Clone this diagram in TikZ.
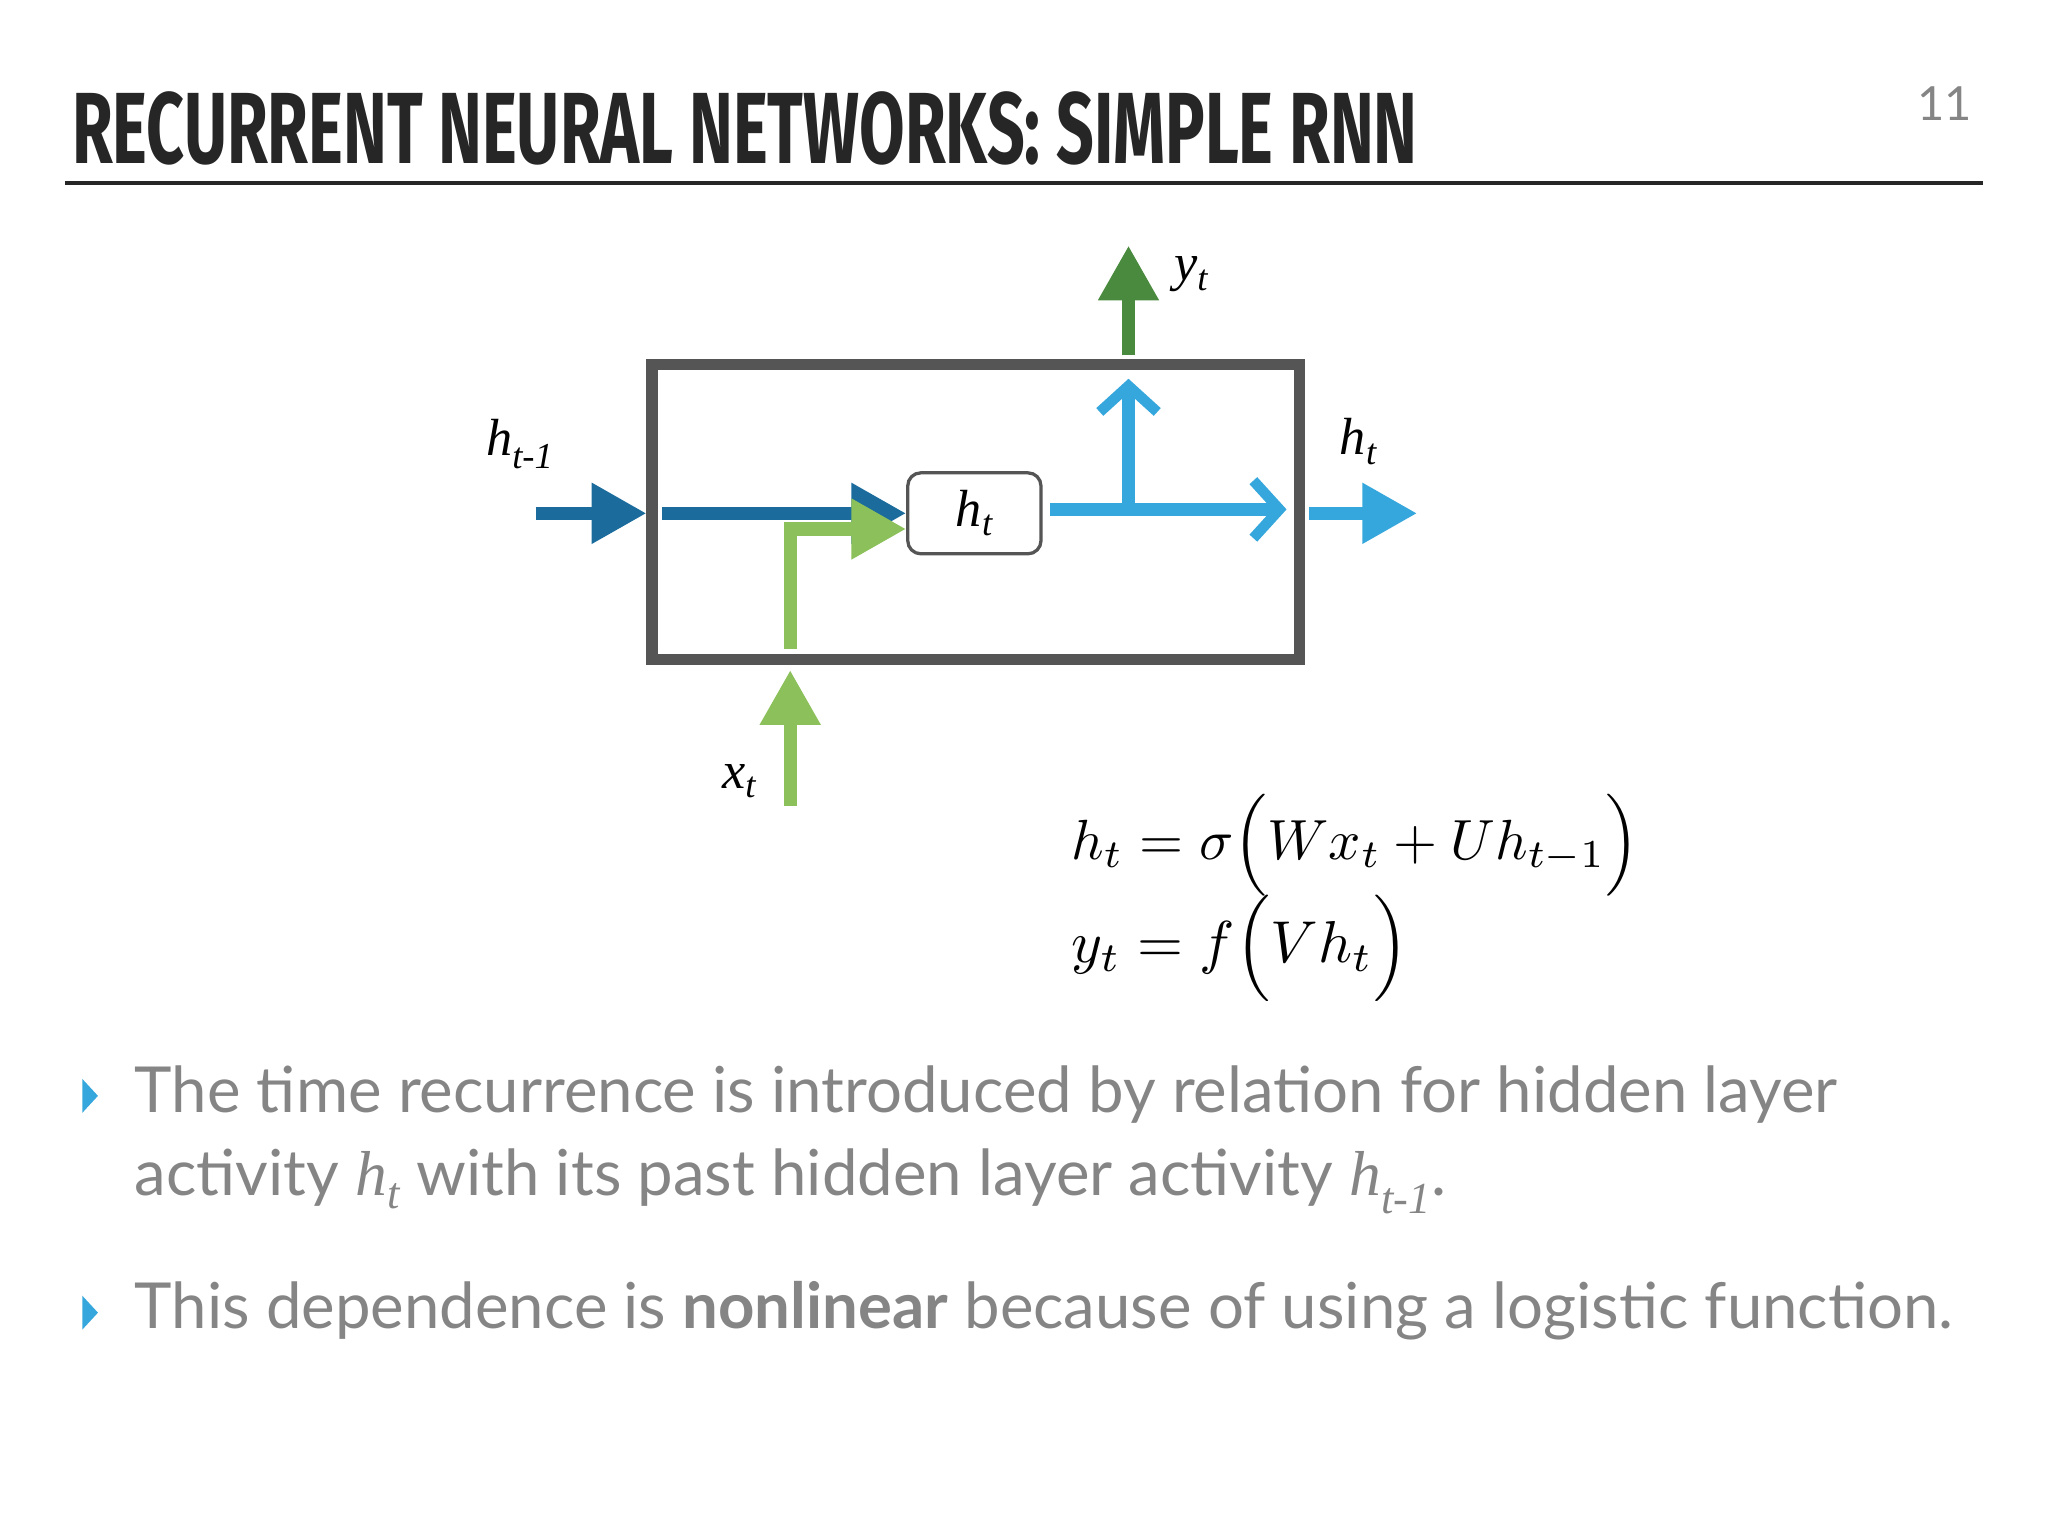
\documentclass[tikz,border=0pt]{standalone}
\usepackage{fontspec}
\setmainfont{Lato}
\newfontfamily\serifit{Liberation Serif}
\newfontfamily\titlefont{Fira Sans}
\usetikzlibrary{arrows.meta}
\definecolor{dblue}{HTML}{1B6B9C}
\definecolor{lblue}{HTML}{35A7DC}
\definecolor{lgreen}{HTML}{8CC05A}
\definecolor{dgreen}{HTML}{4A8A3E}
\definecolor{boxgray}{HTML}{555555}
\definecolor{txtgray}{HTML}{858585}
\begin{document}
\begin{tikzpicture}[x=1pt,y=-1pt,
  fat/.style={line width=10pt},
  fhead/.style={-{Triangle[length=42pt,width=44pt]}},
  ohead/.style={-{Straight Barb[length=20pt,width=44pt,line width=8pt]}},
  lab/.style={font=\fontsize{40}{40}\selectfont\serifit\itshape, inner sep=0pt},
  bul/.style={font=\fontsize{48.6}{64}\selectfont, text=txtgray, anchor=base west, inner sep=0pt}]
\useasboundingbox (0,0) rectangle (1568,1176);
\node[anchor=base west,inner sep=0pt,text=black!85] (title) at (55,125) {\resizebox{1030pt}{55pt}{\titlefont\bfseries RECURRENT NEURAL NETWORKS: SIMPLE RNN}};
\node[anchor=base east,inner sep=0pt,text=txtgray,font=\fontsize{36}{36}\selectfont] (pg) at (1510,92) {11};
\draw[line width=3pt,black!85] (50,140) coordinate (r1) -- (1518,140) coordinate (r2);
\node[draw=boxgray,line width=9pt,minimum width=496pt,minimum height=226pt,inner sep=0pt] (box) at (747,392) {};
\node[draw=boxgray,line width=2.5pt,rounded corners=10pt,minimum width=102pt,minimum height=62pt,inner sep=0pt,lab] (h) at (746,393) {h\textsubscript{t}};
% h_{t-1} input
\coordinate (a0) at (410,393); \coordinate (a1) at (495,393);
\draw[fat,dblue,fhead] (a0) -- (a1);
\coordinate (b0) at (507,393);
\draw[fat,dblue,fhead] (b0) -- (h.west);
% x_t input
\coordinate (g0) at (605,497); \coordinate (g1) at (605,405);
\draw[fat,lgreen,fhead] (g0) -- (g1) -- (h.west |- g1);
\coordinate (x0) at (605,617); \coordinate (x1) at (605,513);
\draw[fat,lgreen,fhead] (x0) -- (x1);
% outputs
\coordinate (c1) at (985,390); \coordinate (c2) at (864,390); \coordinate (c3) at (864,290);
\draw[fat,lblue,ohead] ([xshift=6pt]h.east |- c1) -- (c1);
\draw[fat,lblue,ohead] (c2) -- (c3);
\coordinate (d0) at (1002,393); \coordinate (d1) at (1085,393);
\draw[fat,lblue,fhead] (d0) -- (d1);
\coordinate (y0) at (864,272); \coordinate (y1) at (864,188);
\draw[fat,dgreen,fhead] (y0) -- (y1);
% labels
\node[lab] (ly) at (912,210) {y\textsubscript{t}};
\node[lab] (lhp) at (398,340) {h\textsubscript{t-1}};
\node[lab] (lh) at (1040,338) {h\textsubscript{t}};
\node[lab] (lx) at (566,598) {x\textsubscript{t}};
% equations
\node[anchor=base west,inner sep=0pt] (eq1) at (820,658)
  {\resizebox{435pt}{!}{$h_t = \sigma\Bigl(Wx_t + Uh_{t-1}\Bigr)$}};
\node[anchor=base west,inner sep=0pt] (eq2) at (820,737)
  {\resizebox{258pt}{!}{$y_t = f\Bigl(Vh_t\Bigr)$}};
% bullets
\fill[lblue] (63,826) -- (75,839) -- (63,852) -- cycle;
\fill[lblue] (63,992) -- (75,1005) -- (63,1018) -- cycle;
\node[bul] (t1) at (103,852) {The time recurrence is introduced by relation for hidden layer};
\node[bul] (t2) at (103,915) {activity {\serifit\itshape h\textsubscript{t}} with its past hidden layer activity {\serifit\itshape h\textsubscript{t-1}}.};
\node[bul] (t3) at (103,1017) {This dependence is {\bfseries nonlinear} because of using a logistic function.};
\end{tikzpicture}
\end{document}
